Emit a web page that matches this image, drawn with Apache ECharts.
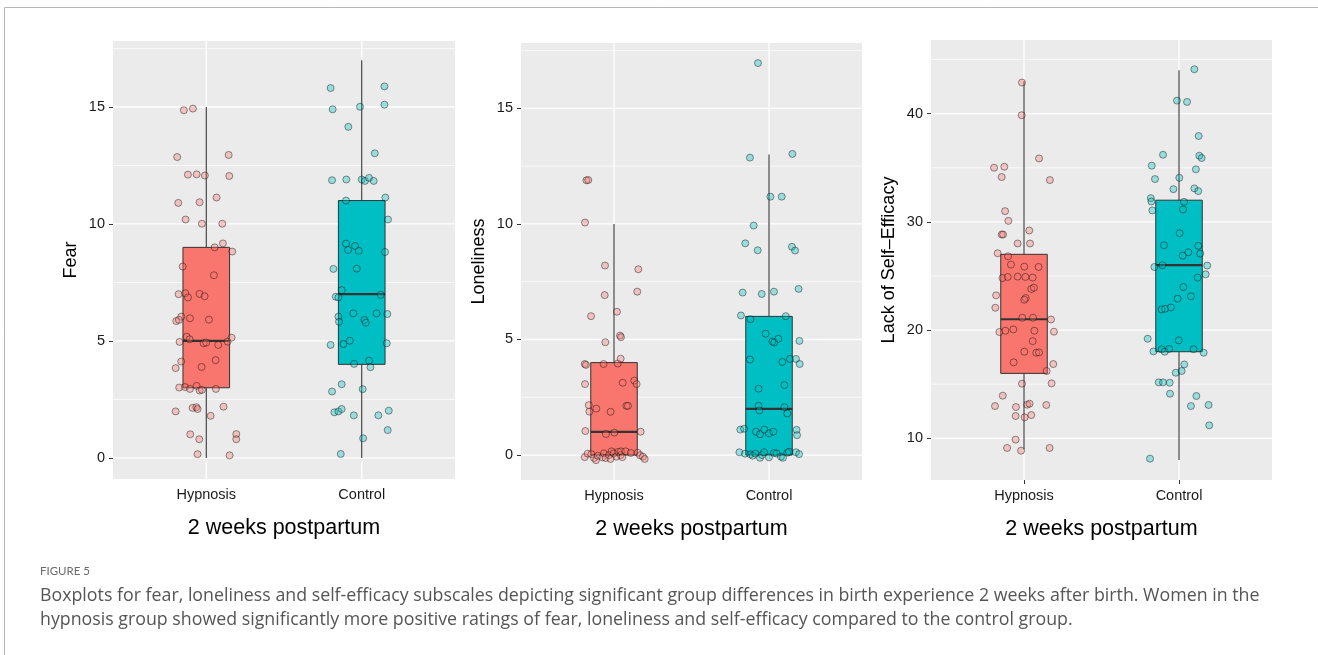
<!DOCTYPE html>
<html>
<head>
<meta charset="utf-8">
<script src="https://cdn.jsdelivr.net/npm/echarts@6/dist/echarts.min.js"></script>
<style>
html,body{margin:0;padding:0;background:#fff;}
#chart{width:1318px;height:655px;}
</style>
</head>
<body>
<div id="chart"></div>
<script>
// ---------------- DATA ----------------
const categories = ['Hypnosis', 'Control'];
const xTitle = '2 weeks postpartum';
const yNames = ['Fear', 'Loneliness', 'Lack of Self\u2013Efficacy'];

const fearTicks = [0, 5, 10, 15];
const fearMinor = [2.5, 7.5, 12.5, 17.5];
const lonelyTicks = [0, 5, 10, 15];
const lonelyMinor = [2.5, 7.5, 12.5, 17.5];
const selfTicks = [10, 20, 30, 40];
const selfMinor = [15, 25, 35, 45];

// box stats: [min, Q1, median, Q3, max] for Hypnosis, Control
const fearBox = [[0, 3, 5, 9, 15], [0, 4, 7, 11, 17]];
const lonelyBox = [[0, 0, 1, 4, 10], [0, 0, 2, 6, 13]];
const selfBox = [[9, 16, 21, 27, 43], [8, 18, 26, 32, 44]];

// individual observations (values) and their horizontal jitter offsets
const fearHypnosis = [14.86,14.93,12.86,12.95,12.11,12.12,12.07,12.05,10.90,10.93,11.13,10.19,10.01,10.01,9.17,9.0,8.82,8.18,7.81,7.0,7.04,7.01,6.91,6.86,6.04,5.85,5.9,5.97,5.91,4.96,5.18,5.07,4.9,4.93,4.83,4.97,5.14,4.12,3.84,3.89,4.18,3.01,3.03,2.95,3.08,2.88,2.91,2.95,1.99,2.14,2.17,2.09,1.8,2.19,1.01,0.8,1.02,0.8,0.16,0.11];
const fearHypnosisJitter = [-0.144,-0.086,-0.187,0.144,-0.118,-0.062,-0.009,0.148,-0.18,-0.043,0.066,-0.133,-0.028,0.103,0.107,0.054,0.167,-0.152,0.049,-0.178,-0.135,-0.043,-0.011,-0.118,-0.161,-0.193,-0.176,-0.105,0.017,-0.172,-0.126,-0.107,-0.017,0,0.077,0.137,0.163,-0.161,-0.197,-0.03,0.06,-0.174,-0.137,-0.105,-0.062,-0.043,-0.028,0.062,-0.197,-0.088,-0.064,-0.056,0.028,0.111,-0.103,-0.045,0.193,0.193,-0.056,0.15];
const fearControl = [15.81,15.88,14.9,15.01,15.1,14.15,13.02,11.87,11.9,11.9,11.84,11.97,11.84,11.13,11.0,10.19,9.16,8.89,9.06,8.85,8.8,8.08,8.09,7.17,6.97,6.89,6.86,6.04,5.82,6.18,5.9,5.78,6.18,6.15,4.83,4.87,5.01,4.9,4.02,4.16,3.88,2.84,3.15,2.94,1.95,1.99,2.09,1.82,1.82,2.02,1.19,0.84,0.17];
const fearControlJitter = [-0.2,0.146,-0.187,-0.011,0.146,-0.086,0.084,-0.191,-0.099,0,0.021,0.047,0.077,0.152,-0.101,0.169,-0.101,-0.088,-0.043,-0.019,0.15,-0.182,-0.032,-0.129,0.122,-0.167,-0.15,-0.15,-0.146,-0.054,0.017,0.026,0.096,0.165,-0.2,-0.118,-0.077,0.161,-0.049,0.047,0.056,-0.191,-0.129,0.006,-0.176,-0.15,-0.129,-0.051,0.107,0.174,0.167,0.009,-0.135];

const lonelyHypnosis = [11.89,11.9,10.06,8.2,8.04,6.92,7.07,6.01,6.2,4.88,5.17,5.1,3.94,3.9,3.94,3.96,4.17,3.07,3.13,3.22,3.07,2.16,1.88,2.01,1.87,2.13,2.13,1.04,0.91,0.97,1.01,-0.09,0.06,0.04,-0.13,-0.22,-0.03,-0.1,0.07,-0.13,0.0,-0.17,0.16,0.07,-0.07,0.14,0.0,0.16,-0.09,0.16,0.09,0.1,-0.01,-0.07,-0.17];
const lonelyHypnosisJitter = [-0.178,-0.166,-0.187,-0.058,0.157,-0.06,0.15,-0.148,0.019,-0.056,0.039,0.045,-0.189,-0.181,-0.067,0.024,0.043,-0.187,0.056,0.131,0.146,-0.163,-0.159,-0.114,-0.022,0.08,0.09,-0.185,-0.052,0.002,0.172,-0.189,-0.17,-0.146,-0.129,-0.116,-0.105,-0.075,-0.065,-0.054,-0.032,-0.022,-0.015,-0.002,0.015,0.028,0.043,0.045,0.054,0.075,0.108,0.153,0.168,0.187,0.198];
const lonelyControl = [16.96,12.87,13.03,11.18,11.18,9.93,9.16,8.86,9.01,8.85,7.03,6.97,7.07,7.19,6.04,5.88,6.01,5.25,4.91,4.87,5.03,4.94,4.13,4.03,4.16,4.16,3.94,2.87,3.03,2.13,1.93,2.07,1.8,1.1,1.14,1.01,0.9,1.1,0.94,1.01,1.09,0.86,0.12,0.06,0.03,-0.03,0.06,-0.12,0.0,0.12,-0.1,0.09,0.07,-0.07,-0.12,0.1,0.14,0.12,0.04];
const lonelyControlJitter = [-0.071,-0.123,0.151,0.009,0.082,-0.099,-0.153,-0.073,0.148,0.168,-0.17,-0.047,0.032,0.191,-0.181,-0.12,0.108,-0.022,0.022,0.034,0.06,0.196,-0.123,0.086,0.135,0.174,0.198,-0.067,0.099,-0.067,-0.062,0.099,0.118,-0.185,-0.161,-0.084,-0.058,-0.03,0,0.028,0.178,0.181,-0.191,-0.155,-0.12,-0.105,-0.088,-0.058,-0.045,-0.032,0,0.032,0.049,0.077,0.09,0.118,0.129,0.174,0.194];

const selfHypnosis = [42.87,39.85,35.0,35.09,34.14,35.86,33.86,30.99,30.09,28.83,28.83,29.2,28.0,28.0,27.1,26.82,26.05,25.86,25.83,24.81,24.91,24.94,24.91,24.85,23.21,23.8,23.92,22.96,22.06,22.8,21.14,21.14,20.98,19.82,19.94,20.06,19.94,19.85,18.98,18.0,17.91,17.94,17.02,16.22,16.86,15.05,15.08,13.94,12.98,12.89,13.11,13.2,13.08,12.06,11.94,12.15,9.88,9.11,8.86,9.11];
const selfHypnosisJitter = [-0.013,-0.015,-0.193,-0.127,-0.144,0.097,0.167,-0.122,-0.101,-0.144,-0.135,0.034,-0.041,0.039,-0.17,-0.103,-0.084,0.002,0.094,-0.139,-0.105,-0.041,0.009,0.056,-0.18,0.047,0.064,0.011,-0.185,0.002,-0.011,0.058,0.174,-0.159,-0.12,-0.069,0.067,0.193,0.056,0.002,0.079,0.097,-0.067,0.146,0.189,-0.013,0.178,-0.137,-0.187,-0.052,0.021,0.036,0.144,-0.054,0.004,0.047,-0.054,-0.109,-0.019,0.165];
const selfControl = [44.1,41.2,41.08,37.93,36.2,36.11,35.9,35.19,34.85,33.95,34.07,33.02,33.09,32.84,32.19,31.88,31.05,31.85,31.14,28.95,27.84,27.78,27.19,26.88,27.07,25.83,25.99,25.96,25.15,24.85,23.98,22.9,23.12,21.91,21.97,22.09,19.05,19.2,18.03,18.22,18.0,18.25,18.22,17.91,16.83,16.06,16.22,15.17,15.17,15.14,14.12,13.91,12.98,13.08,11.2,8.12];
const selfControlJitter = [0.099,-0.013,0.052,0.127,-0.103,0.131,0.146,-0.176,0.109,-0.155,0.002,-0.036,0.099,0.124,-0.182,-0.178,-0.172,0.032,0.026,0.004,-0.097,0.124,0.06,0.024,0.137,-0.159,-0.107,0.182,0.172,0.12,0.028,-0.009,0.077,-0.112,-0.09,-0.052,-0.002,-0.202,-0.165,-0.112,-0.092,-0.064,0.094,0.159,0.034,-0.021,0.017,-0.131,-0.103,-0.06,-0.058,0.112,0.077,0.191,0.195,-0.187];

const captionLabel = 'FIGURE 5';
const captionLines = [
  'Boxplots for fear, loneliness and self-efficacy subscales depicting significant group differences in birth experience 2 weeks after birth. Women in the',
  'hypnosis group showed significantly more positive ratings of fear, loneliness and self-efficacy compared to the control group.'
];

// ---------------- CHART ----------------
const FILL = ['#F8766D', '#00BFC4'];
const PT_FILL = ['rgba(248,118,109,0.35)', 'rgba(0,191,196,0.35)'];
const chart = echarts.init(document.getElementById('chart'), null, {renderer: 'canvas'});

const panels = [
  {grid: {left: 113, top: 41, width: 342, height: 438}, yMin: -0.9, yMax: 17.82, ticks: fearTicks, minor: fearMinor,
   name: yNames[0], box: fearBox, hv: fearHypnosis, hj: fearHypnosisJitter, cv: fearControl, cj: fearControlJitter},
  {grid: {left: 521, top: 43, width: 341, height: 437}, yMin: -1.08, yMax: 17.83, ticks: lonelyTicks, minor: lonelyMinor,
   name: yNames[1], box: lonelyBox, hv: lonelyHypnosis, hj: lonelyHypnosisJitter, cv: lonelyControl, cj: lonelyControlJitter},
  {grid: {left: 931, top: 40, width: 341, height: 440}, yMin: 6.15, yMax: 46.8, ticks: selfTicks, minor: selfMinor,
   name: yNames[2], box: selfBox, hv: selfHypnosis, hj: selfHypnosisJitter, cv: selfControl, cj: selfControlJitter}
];

const grids = [], xAxes = [], yAxes = [], series = [];
const TXT = 'Liberation Sans, Arial, Helvetica, sans-serif';
const CAP = 'Open Sans, Noto Sans, sans-serif';

panels.forEach((p, i) => {
  grids.push(Object.assign({show: true, backgroundColor: '#EBEBEB', borderWidth: 0, containLabel: false}, p.grid));
  xAxes.push({
    type: 'value', gridIndex: i, min: 0.4, max: 2.6,
    axisLine: {show: false},
    axisTick: {show: true, customValues: [1, 2], length: 4, lineStyle: {color: '#333', width: 1}},
    axisLabel: {customValues: [1, 2], formatter: v => categories[Math.round(v) - 1] || '', color: '#1a1a1a',
      fontSize: 14.5, fontFamily: TXT, margin: 8},
    splitLine: {show: false},
    name: xTitle, nameLocation: 'middle', nameGap: 38,
    nameTextStyle: {fontSize: 21.5, color: '#000', fontFamily: TXT}
  });
  yAxes.push({
    type: 'value', gridIndex: i, min: p.yMin, max: p.yMax,
    axisLine: {show: false},
    axisTick: {show: true, customValues: p.ticks, length: 4, lineStyle: {color: '#333', width: 1}},
    axisLabel: {customValues: p.ticks, color: '#1a1a1a', fontSize: 14.5, fontFamily: TXT, margin: 8},
    splitLine: {show: false},
    name: p.name, nameLocation: 'middle', nameGap: 33, nameRotate: 90,
    nameTextStyle: {fontSize: 18, color: '#000', fontFamily: TXT}
  });
  // grid lines
  const gl = [];
  p.ticks.forEach(v => gl.push([v, 0]));
  p.minor.forEach(v => gl.push([v, 1]));
  [1, 2].forEach(v => gl.push([v, 2]));
  series.push({
    type: 'custom', xAxisIndex: i, yAxisIndex: i, z: 1, silent: true,
    data: gl, encode: {x: -1, y: -1},
    renderItem: (params, api) => {
      const cs = params.coordSys;
      const v = api.value(0), kind = api.value(1);
      if (kind === 2) {
        const x = api.coord([v, p.yMin])[0];
        return {type: 'line', shape: {x1: x, y1: cs.y, x2: x, y2: cs.y + cs.height},
          style: {stroke: '#fff', lineWidth: 1.3}};
      }
      const y = api.coord([1, v])[1];
      if (y < cs.y || y > cs.y + cs.height) return null;
      return {type: 'line', shape: {x1: cs.x, y1: y, x2: cs.x + cs.width, y2: y},
        style: {stroke: '#fff', lineWidth: kind === 0 ? 1.3 : 0.7}};
    }
  });
  // boxes
  series.push({
    type: 'custom', xAxisIndex: i, yAxisIndex: i, z: 2, silent: true,
    data: p.box.map((b, k) => [k + 1].concat(b)),
    encode: {x: 0, y: [1, 2, 3, 4, 5]},
    renderItem: (params, api) => {
      const x = api.value(0);
      const k = Math.round(x) - 1;
      const hw = api.size([0.3, 0])[0] / 2;
      const pMin = api.coord([x, api.value(1)]);
      const pQ1 = api.coord([x, api.value(2)]);
      const pMed = api.coord([x, api.value(3)]);
      const pQ3 = api.coord([x, api.value(4)]);
      const pMax = api.coord([x, api.value(5)]);
      const cx = pMed[0];
      return {type: 'group', children: [
        {type: 'line', shape: {x1: cx, y1: pQ3[1], x2: cx, y2: pMax[1]}, style: {stroke: '#333', lineWidth: 1.1}},
        {type: 'line', shape: {x1: cx, y1: pQ1[1], x2: cx, y2: pMin[1]}, style: {stroke: '#333', lineWidth: 1.1}},
        {type: 'rect', shape: {x: cx - hw, y: pQ3[1], width: 2 * hw, height: pQ1[1] - pQ3[1]},
          style: {fill: FILL[k], stroke: '#333', lineWidth: 1}},
        {type: 'line', shape: {x1: cx - hw, y1: pMed[1], x2: cx + hw, y2: pMed[1]}, style: {stroke: '#333', lineWidth: 2.2}}
      ]};
    }
  });
  // points
  [[p.hv, p.hj], [p.cv, p.cj]].forEach((g, k) => {
    series.push({
      type: 'scatter', xAxisIndex: i, yAxisIndex: i, z: 3, silent: true,
      symbol: 'circle', symbolSize: 7,
      itemStyle: {color: PT_FILL[k], borderColor: 'rgba(0,0,0,0.42)', borderWidth: 1, opacity: 1},
      data: g[0].map((v, j) => [k + 1 + g[1][j], v])
    });
  });
});

const graphic = [
  {type: 'polyline', silent: true, shape: {points: [[4.5, 655], [4.5, 7.5], [1318, 7.5]]},
    style: {stroke: '#b5b5b5', lineWidth: 1, fill: null}},
  {type: 'text', left: 40, top: 565, silent: true,
    style: {text: captionLabel, fill: '#6b6b6b', fontSize: 11.5, fontFamily: 'Lato, Open Sans, sans-serif'}},
  {type: 'text', left: 40, top: 587, silent: true,
    style: {text: captionLines[0], fill: '#555', fontSize: 17.8, fontFamily: CAP}},
  {type: 'text', left: 40, top: 611, silent: true,
    style: {text: captionLines[1], fill: '#555', fontSize: 17.8, fontFamily: CAP}}
];

chart.setOption({
  animation: false,
  backgroundColor: '#fff',
  grid: grids, xAxis: xAxes, yAxis: yAxes, series: series, graphic: graphic
});
</script>
</body>
</html>
